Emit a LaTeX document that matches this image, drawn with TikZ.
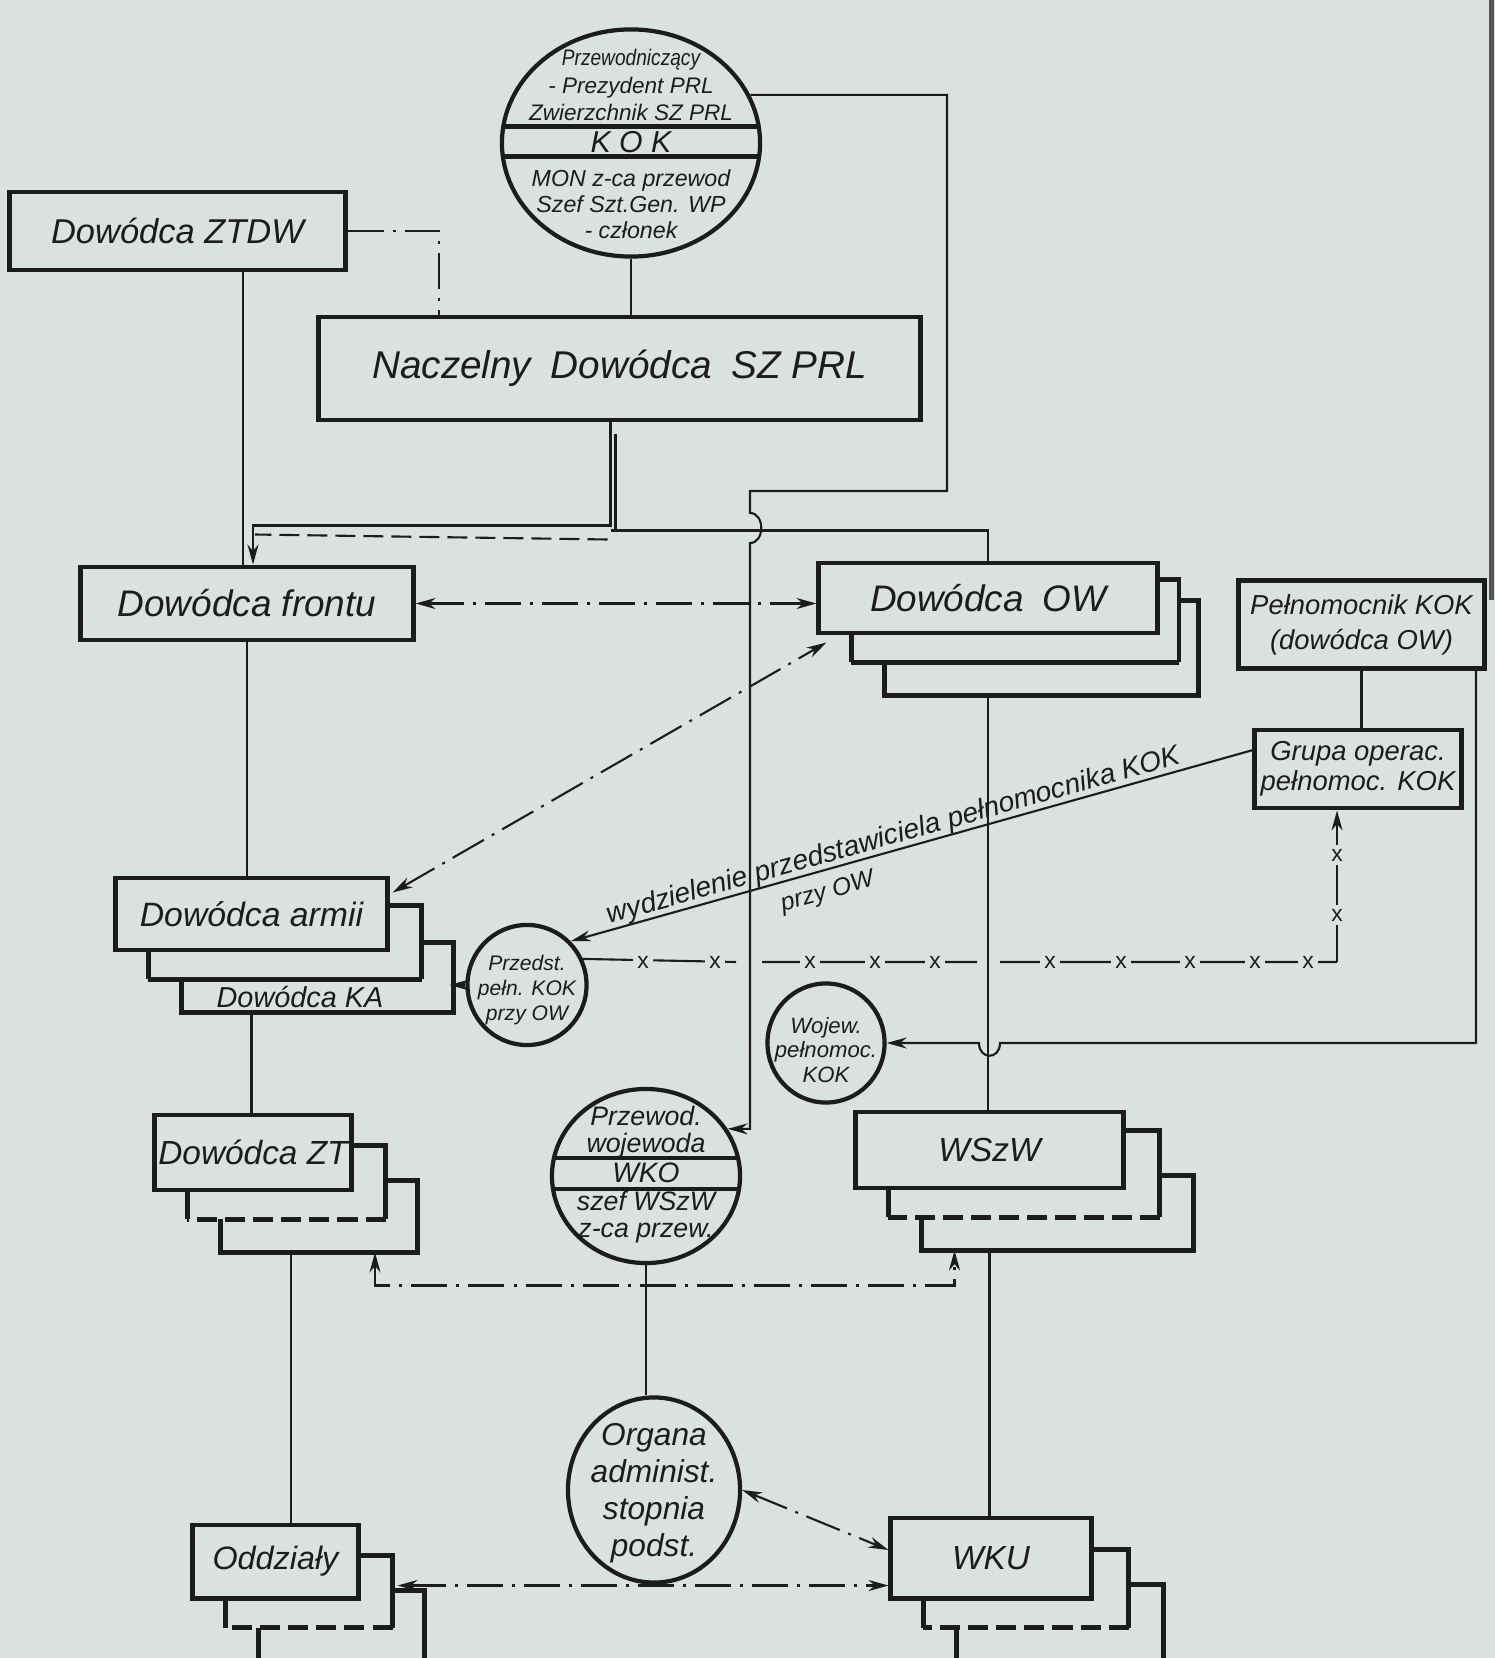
\documentclass[tikz,border=0pt]{standalone}
\usepackage{graphicx}
\usepackage{fontspec}
\setmainfont{Liberation Sans}
\usetikzlibrary{calc,arrows.meta,shapes.geometric}
\definecolor{paper}{RGB}{219,226,221}
\definecolor{ink}{RGB}{28,28,28}
\newcommand{\lettering}[2]{\fontsize{#1}{#2}\selectfont\itshape}
\newcommand{\boxstack}[5]{%
	\draw[stackline] ($(#1.north east)+(0,#4)$) -- ++(#3,0) -- ($(#1.south east)+(#3,27)$);
	\draw[stackline,#2] ($(#1.south east)+(#3,27)$) -- ($(#1.south west)+(35,27)$);
	\draw[stackline] ($(#1.south west)+(35,27)$) -- ($(#1.south west)+(35,0)$);
	\draw[stackline] ($(#1.north east)+(#3,#5)$) -- ++(#3,0) |- ($(#1.south west)+(68,60)$) -- ($(#1.south west)+(68,27)$);
}
\begin{document}
\begin{tikzpicture}
    [x=0.01cm, y=-0.01cm, >={Stealth[length=2mm,width=1.1mm]},
    boxnode/.style={draw=ink, line width=1.4pt, inner sep=0pt, text=ink, align=center},
    ringnode/.style={draw=ink, line width=1.2pt, ellipse, inner sep=0pt},
    bands/.style 2 args={path picture={
		\draw[ink, line width=1.2pt]
			([yshift=-#1]path picture bounding box.north west) -- ([yshift=-#1]path picture bounding box.north east)
			([yshift=-#2]path picture bounding box.north west) -- ([yshift=-#2]path picture bounding box.north east);
	}},
    note/.style={text=ink, inner sep=0pt, align=center},
    stackline/.style={draw=ink, line width=1.2pt},
    dashedge/.style={dash pattern=on 0.2cm off 0.08cm},
    conn/.style={draw=ink, line width=0.6pt},
    dashdot/.style={conn, dash pattern=on 0.36cm off 0.09cm on 0.03cm off 0.09cm},
    xmark/.style={text=ink, fill=paper, inner sep=1.2pt, font=\fontsize{6.5}{7}\selectfont}]

		\path[use as bounding box, fill=paper] (0,0) rectangle (1495,1658);
		\draw[line width=0.05cm, ink!75] (1491,0) -- (1491,600);

		\node [ringnode, minimum width=2.58cm, minimum height=2.27cm, bands={0.97cm}{1.27cm}] (kok) at (631,143) {};
		\node [note, font=\lettering{6.4}{7.8}] (kokhead) at (631,85) {\scalebox{0.85}[1]{Przewodniczący}\\- Prezydent PRL\\Zwierzchnik SZ PRL};
		\node [note, font=\lettering{8.6}{9}] (koktitle) at (631,142) {K O K};
		\node [note, font=\lettering{6.6}{7.4}] (kokbody) at (631,204) {MON z-ca przewod\\Szef Szt.Gen. WP\\- członek};

		\node [boxnode, minimum width=3.35cm, minimum height=0.78cm, font=\lettering{9.8}{12}] (ztdw) at (177.5,231) {Dowódca ZTDW};
		\node [boxnode, minimum width=6.01cm, minimum height=1.03cm, font=\lettering{11}{13}] (nacz) at (619.5,368.5) {Naczelny\enspace Dowódca\enspace SZ PRL};
		\node [boxnode, minimum width=3.32cm, minimum height=0.73cm, font=\lettering{10.5}{12}] (frontu) at (247,603.5) {Dowódca frontu};
		\node [boxnode, minimum width=3.38cm, minimum height=0.70cm, font=\lettering{10.5}{12}] (ow) at (988,598) {Dowódca\enspace OW};
		\node [boxnode, minimum width=2.45cm, minimum height=0.88cm, font=\lettering{7.8}{10}] (pelnk) at (1361.5,624.5) {Pełnomocnik KOK\\(dowódca OW)};
		\node [boxnode, minimum width=2.07cm, minimum height=0.78cm, font=\lettering{7.8}{8.5}] (grupa) at (1358,769) {Grupa operac.\\pełnomoc. KOK};
		\node [boxnode, minimum width=2.71cm, minimum height=0.72cm, font=\lettering{9.6}{12}] (armii) at (251.5,914) {Dowódca armii};
		\node [note, font=\lettering{8.2}{10}] (armiika) at (300,997) {Dowódca KA};

		\node [ringnode, minimum width=1.19cm, minimum height=1.2cm] (przedst) at (527,985) {};
		\node [note, font=\lettering{6}{7.2}] (przedsttxt) at (527,990) {Przedst.\\pełn. KOK\\przy OW};
		\node [ringnode, minimum width=1.17cm, minimum height=1.19cm] (wojew) at (826,1043) {};
		\node [note, font=\lettering{6.3}{7}] (wojewtxt) at (826,1050) {Wojew.\\pełnomoc.\\KOK};
		\node [ringnode, minimum width=1.88cm, minimum height=1.74cm, bands={0.69cm}{1.00cm}] (wko) at (646,1176) {};
		\node [note, font=\lettering{7.6}{7.6}] (wkohead) at (646,1132) {Przewod.\\wojewoda};
		\node [note, font=\lettering{8}{9}] (wkotitle) at (646,1173) {WKO};
		\node [note, font=\lettering{7.6}{7.6}] (wkobody) at (646,1217) {szef WSzW\\z-ca przew.};

		\node [boxnode, minimum width=1.96cm, minimum height=0.75cm, font=\lettering{9.5}{12}] (zt) at (253,1152.5) {Dowódca ZT};
		\node [boxnode, minimum width=2.67cm, minimum height=0.76cm, font=\lettering{9.5}{12}] (wszw) at (989.5,1150) {WSzW};
		\node [ringnode, minimum width=1.72cm, minimum height=1.85cm] (organa) at (654,1490) {};
		\node [note, font=\lettering{9}{10.5}] (organatxt) at (654,1493) {Organa\\administ.\\stopnia\\podst.};
		\node [boxnode, minimum width=1.65cm, minimum height=0.73cm, font=\lettering{9.2}{12}] (oddz) at (275.5,1561.5) {Oddziały};
		\node [boxnode, minimum width=2.00cm, minimum height=0.80cm, font=\lettering{9.5}{12}] (wku) at (991,1558) {WKU};

		\boxstack{ow}{solid}{19.5}{19}{40}
		\boxstack{armii}{solid}{32}{30}{67}
		\boxstack{zt}{dashedge}{32}{33}{68}
		\boxstack{wszw}{dashedge}{34}{21}{66}
		\boxstack{wku}{dashedge}{35}{34}{69}
		\boxstack{oddz}{dashedge}{32}{33}{68}

		\draw[conn] (kok.south) -- (kok.south |- nacz.north);
		\draw[dashdot] (ztdw.east) -| ($(nacz.north west)+(123,0)$);
		\draw[conn] ($(frontu.north)+(-4,0)$) -- ($(frontu.north |- ztdw.south)+(-4,0)$);
		\draw[conn,->] ($(nacz.south)+(-9,0)$) |- ($(frontu.north)+(6,-39)$) -- ($(frontu.north)+(6,0)$);
		\draw[conn] ($(nacz.south)+(-4,12)$) -- ($(nacz.south)+(-4,107)$);
		\draw[conn,dashedge] ($(nacz.south)+(-12,117)$) -- ($(frontu.north)+(8,-30)$);
		\draw[conn] ($(nacz.south)+(-9,108)$) -| (ow.north);

		\coordinate (kokbend) at (947,491);
		\coordinate (kokdrop) at (750,491);
		\draw[conn,->] (kok.22) -| (kokbend) -- (kokdrop) -- ++(0,22) .. controls +(15,0) and +(15,0) .. ++(0,30) |- (wko.30);

		\draw[conn] (frontu.south) -- (frontu.south |- armii.north);
		\draw[conn] ($(armii.south)+(0,60)$) -- (armii.south |- zt.north);
		\draw[conn] ($(zt.south)+(38,60)$) -- ($(zt.south |- oddz.north)+(38,0)$);
		\draw[conn] ($(ow.south)+(0,60)$) -- (ow.south |- wszw.north);
		\draw[conn] ($(wszw.south)+(0,60)$) -- (wszw.south |- wku.north);
		\draw[conn] (wko.south) -- (wko.south |- organa.north);
		\draw[conn] (pelnk.south) -- (pelnk.south |- grupa.north);

		\coordinate (wojbend) at (1476,1043);
		\draw[conn,->] (pelnk.south -| wojbend) -- (wojbend) -- ++(-476,0) .. controls +(0,17) and +(0,17) .. ++(-21,0) -- (wojew.east);

		\coordinate (xbend) at (1337,962);
		\draw[conn] (przedst.25) -- (736,962) (762,962) -- (977,962) (1000,962) -- (xbend);
		\draw[conn,->] (xbend) -- (xbend |- grupa.south);
		\foreach \xm in {643,715,810,875,935,1050,1121,1190,1255,1308}
			\node[xmark] (xh\xm) at (\xm,962) {x};
		\foreach \ym in {855,915}
			\node[xmark] (xv\ym) at (1337,\ym) {x};

		\draw[conn,->] (grupa.170) -- node[pos=0.52, sloped, yshift=-1pt, inner sep=0pt, align=left, text=ink, font=\lettering{8}{10}] (wydz) {wydzielenie przedstawiciela pełnomocnika KOK\\\hspace*{1.7cm}{\lettering{7}{10}przy OW}} (przedst.45);
		\draw[conn,->] (przedst.west) -- ++(-16,0);

		\draw[dashdot,<->] (frontu.east) -- (frontu.east -| ow.west);
		\draw[dashdot,<->] ($(armii.north east)+(3,17)$) -- ($(ow.south west)+(10,7)$);
		\draw[dashdot,<->] ($(zt.south)+(122,60)$) |- ($(wszw.south)+(-35,95)$) -- ($(wszw.south)+(-35,60)$);
		\draw[dashdot,<->] (organa.east) -- ($(wku.west)+(0,-8)$);
		\coordinate (oddzarr) at ($(oddz.east)+(37,24)$);
		\draw[dashdot,<->] (oddzarr) -- (oddzarr -| wku.west);
    \end{tikzpicture}
\end{document}
